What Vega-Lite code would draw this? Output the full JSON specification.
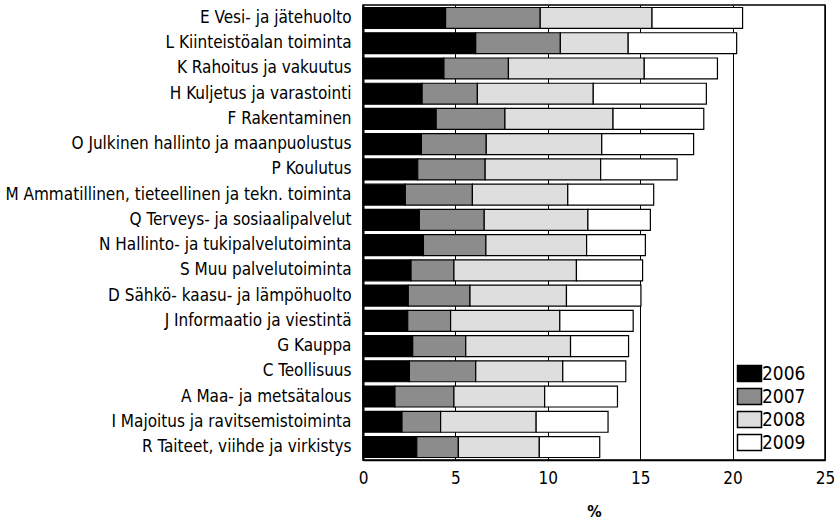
{
  "$schema": "https://vega.github.io/schema/vega-lite/v6.json",
  "width": 462,
  "height": 455,
  "autosize": "none",
  "padding": {"left": 363, "top": 5, "right": 12, "bottom": 64},
  "background": "white",
  "config": {
    "font": "DejaVu Sans Condensed, Roboto, sans-serif",
    "view": {"stroke": "black", "strokeWidth": 1.5},
    "axis": {"labelColor": "black", "titleColor": "black"}
  },
  "data": {
    "values": [
      {"branch": "E Vesi- ja jätehuolto", "year": "2006", "value": 4.47},
      {"branch": "E Vesi- ja jätehuolto", "year": "2007", "value": 5.12},
      {"branch": "E Vesi- ja jätehuolto", "year": "2008", "value": 6.05},
      {"branch": "E Vesi- ja jätehuolto", "year": "2009", "value": 4.90},
      {"branch": "L Kiinteistöalan toiminta", "year": "2006", "value": 6.10},
      {"branch": "L Kiinteistöalan toiminta", "year": "2007", "value": 4.58},
      {"branch": "L Kiinteistöalan toiminta", "year": "2008", "value": 3.67},
      {"branch": "L Kiinteistöalan toiminta", "year": "2009", "value": 5.87},
      {"branch": "K Rahoitus ja vakuutus", "year": "2006", "value": 4.38},
      {"branch": "K Rahoitus ja vakuutus", "year": "2007", "value": 3.49},
      {"branch": "K Rahoitus ja vakuutus", "year": "2008", "value": 7.35},
      {"branch": "K Rahoitus ja vakuutus", "year": "2009", "value": 3.96},
      {"branch": "H Kuljetus ja varastointi", "year": "2006", "value": 3.20},
      {"branch": "H Kuljetus ja varastointi", "year": "2007", "value": 2.99},
      {"branch": "H Kuljetus ja varastointi", "year": "2008", "value": 6.27},
      {"branch": "H Kuljetus ja varastointi", "year": "2009", "value": 6.12},
      {"branch": "F Rakentaminen", "year": "2006", "value": 3.96},
      {"branch": "F Rakentaminen", "year": "2007", "value": 3.72},
      {"branch": "F Rakentaminen", "year": "2008", "value": 5.85},
      {"branch": "F Rakentaminen", "year": "2009", "value": 4.91},
      {"branch": "O Julkinen hallinto ja maanpuolustus", "year": "2006", "value": 3.16},
      {"branch": "O Julkinen hallinto ja maanpuolustus", "year": "2007", "value": 3.51},
      {"branch": "O Julkinen hallinto ja maanpuolustus", "year": "2008", "value": 6.25},
      {"branch": "O Julkinen hallinto ja maanpuolustus", "year": "2009", "value": 4.97},
      {"branch": "P Koulutus", "year": "2006", "value": 2.96},
      {"branch": "P Koulutus", "year": "2007", "value": 3.65},
      {"branch": "P Koulutus", "year": "2008", "value": 6.25},
      {"branch": "P Koulutus", "year": "2009", "value": 4.14},
      {"branch": "M Ammatillinen, tieteellinen ja tekn. toiminta", "year": "2006", "value": 2.29},
      {"branch": "M Ammatillinen, tieteellinen ja tekn. toiminta", "year": "2007", "value": 3.63},
      {"branch": "M Ammatillinen, tieteellinen ja tekn. toiminta", "year": "2008", "value": 5.16},
      {"branch": "M Ammatillinen, tieteellinen ja tekn. toiminta", "year": "2009", "value": 4.65},
      {"branch": "Q Terveys- ja sosiaalipalvelut", "year": "2006", "value": 3.05},
      {"branch": "Q Terveys- ja sosiaalipalvelut", "year": "2007", "value": 3.51},
      {"branch": "Q Terveys- ja sosiaalipalvelut", "year": "2008", "value": 5.61},
      {"branch": "Q Terveys- ja sosiaalipalvelut", "year": "2009", "value": 3.38},
      {"branch": "N Hallinto- ja tukipalvelutoiminta", "year": "2006", "value": 3.27},
      {"branch": "N Hallinto- ja tukipalvelutoiminta", "year": "2007", "value": 3.38},
      {"branch": "N Hallinto- ja tukipalvelutoiminta", "year": "2008", "value": 5.45},
      {"branch": "N Hallinto- ja tukipalvelutoiminta", "year": "2009", "value": 3.18},
      {"branch": "S Muu palvelutoiminta", "year": "2006", "value": 2.60},
      {"branch": "S Muu palvelutoiminta", "year": "2007", "value": 2.32},
      {"branch": "S Muu palvelutoiminta", "year": "2008", "value": 6.63},
      {"branch": "S Muu palvelutoiminta", "year": "2009", "value": 3.58},
      {"branch": "D Sähkö- kaasu- ja lämpöhuolto", "year": "2006", "value": 2.45},
      {"branch": "D Sähkö- kaasu- ja lämpöhuolto", "year": "2007", "value": 3.34},
      {"branch": "D Sähkö- kaasu- ja lämpöhuolto", "year": "2008", "value": 5.22},
      {"branch": "D Sähkö- kaasu- ja lämpöhuolto", "year": "2009", "value": 4.03},
      {"branch": "J Informaatio ja viestintä", "year": "2006", "value": 2.42},
      {"branch": "J Informaatio ja viestintä", "year": "2007", "value": 2.32},
      {"branch": "J Informaatio ja viestintä", "year": "2008", "value": 5.91},
      {"branch": "J Informaatio ja viestintä", "year": "2009", "value": 3.97},
      {"branch": "G Kauppa", "year": "2006", "value": 2.69},
      {"branch": "G Kauppa", "year": "2007", "value": 2.87},
      {"branch": "G Kauppa", "year": "2008", "value": 5.67},
      {"branch": "G Kauppa", "year": "2009", "value": 3.14},
      {"branch": "C Teollisuus", "year": "2006", "value": 2.51},
      {"branch": "C Teollisuus", "year": "2007", "value": 3.59},
      {"branch": "C Teollisuus", "year": "2008", "value": 4.71},
      {"branch": "C Teollisuus", "year": "2009", "value": 3.41},
      {"branch": "A Maa- ja metsätalous", "year": "2006", "value": 1.73},
      {"branch": "A Maa- ja metsätalous", "year": "2007", "value": 3.19},
      {"branch": "A Maa- ja metsätalous", "year": "2008", "value": 4.91},
      {"branch": "A Maa- ja metsätalous", "year": "2009", "value": 3.94},
      {"branch": "I Majoitus ja ravitsemistoiminta", "year": "2006", "value": 2.11},
      {"branch": "I Majoitus ja ravitsemistoiminta", "year": "2007", "value": 2.09},
      {"branch": "I Majoitus ja ravitsemistoiminta", "year": "2008", "value": 5.17},
      {"branch": "I Majoitus ja ravitsemistoiminta", "year": "2009", "value": 3.89},
      {"branch": "R Taiteet, viihde ja virkistys", "year": "2006", "value": 2.91},
      {"branch": "R Taiteet, viihde ja virkistys", "year": "2007", "value": 2.25},
      {"branch": "R Taiteet, viihde ja virkistys", "year": "2008", "value": 4.38},
      {"branch": "R Taiteet, viihde ja virkistys", "year": "2009", "value": 3.27}
    ]
  },
  "mark": {"type": "bar", "stroke": "black", "strokeWidth": 1.2},
  "encoding": {
    "y": {
      "field": "branch",
      "type": "nominal",
      "sort": null,
      "scale": {"paddingInner": 0.17, "paddingOuter": 0.1},
      "axis": {
        "title": null,
        "ticks": false,
        "labelFontSize": 17,
        "labelPadding": 12,
        "labelLimit": 400,
        "domainColor": "black",
        "domainWidth": 2
      }
    },
    "x": {
      "field": "value",
      "type": "quantitative",
      "stack": "zero",
      "scale": {"domain": [0, 25], "nice": false},
      "axis": {
        "values": [0, 5, 10, 15, 20, 25],
        "title": "%",
        "titleFontSize": 16,
        "titleFontWeight": "bold",
        "titlePadding": 17,
        "labelFontSize": 17,
        "labelPadding": 10,
        "labelFlush": false,
        "ticks": false,
        "domainColor": "black",
        "domainWidth": 1.5,
        "grid": true,
        "gridColor": "black",
        "gridWidth": 1,
        "gridOpacity": 1
      }
    },
    "color": {
      "field": "year",
      "type": "nominal",
      "scale": {
        "domain": ["2006", "2007", "2008", "2009"],
        "range": ["#000000", "#8c8c8c", "#dedede", "#ffffff"]
      },
      "legend": {
        "title": null,
        "orient": "none",
        "legendX": 377,
        "legendY": 359,
        "symbolType": "M-1.5,-1H1.5V1H-1.5Z",
        "symbolSize": 256,
        "symbolStrokeColor": "black",
        "symbolStrokeWidth": 1.5,
        "symbolOpacity": 1,
        "labelFontSize": 19,
        "labelColor": "black",
        "labelOffset": 3,
        "rowPadding": 0,
        "fillColor": "white"
      }
    },
    "order": {"field": "year", "type": "nominal", "sort": "ascending"}
  }
}
